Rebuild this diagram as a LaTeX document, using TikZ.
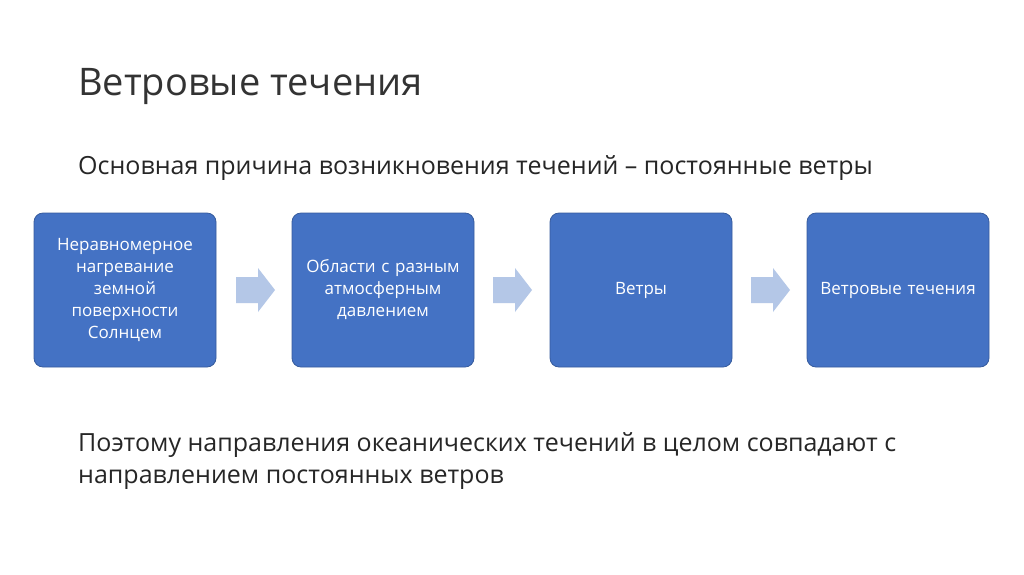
\documentclass[tikz,border=0pt]{standalone}
\usepackage{fontspec}
\setmainfont{Open Sans}
\definecolor{boxblue}{HTML}{4472C4}
\definecolor{arrowblue}{HTML}{B4C7E7}
\begin{document}
\begin{tikzpicture}[x=1pt,y=-1pt,
  box/.style={fill=boxblue,draw=boxblue!80!black,line width=0.8pt,rounded corners=9pt,minimum width=182pt,minimum height=154pt,text=white,align=center,font=\fontsize{17}{22}\selectfont,text width=170pt},
  arr/.style={fill=arrowblue,draw=none}]
\useasboundingbox (0,0) rectangle (1024,574);
\fill[white] (0,0) rectangle (1024,574);
\node[anchor=west,font=\fontsize{38}{44}\selectfont,text=black!80,inner sep=0pt] (title) at (78,86) {Ветровые течения};
\node[anchor=west,font=\fontsize{25}{30}\selectfont,text=black!85,inner sep=0pt] (sub) at (78,168) {Основная причина возникновения течений – постоянные ветры};
\node[box] (b1) at (125,290) {Неравномерное\\нагревание\\земной\\поверхности\\Солнцем};
\node[box] (b2) at (383,290) {Области с разным\\атмосферным\\давлением};
\node[box] (b3) at (641,290) {Ветры};
\node[box] (b4) at (898,290) {Ветровые течения};
\foreach \n/\x in {a1/236,a2/493,a3/751}{
  \fill[arr] (\x,277) -- ++(22,0) -- ++(0,-9) -- ++(17,22) -- ++(-17,22) -- ++(0,-9) -- ++(-22,0) -- cycle;
}
\node[anchor=north west,align=left,font=\fontsize{25}{32}\selectfont,text=black!85,inner sep=0pt] (bot) at (78,432) {Поэтому направления океанических течений в целом совпадают с\\направлением постоянных ветров};
\end{tikzpicture}
\end{document}
